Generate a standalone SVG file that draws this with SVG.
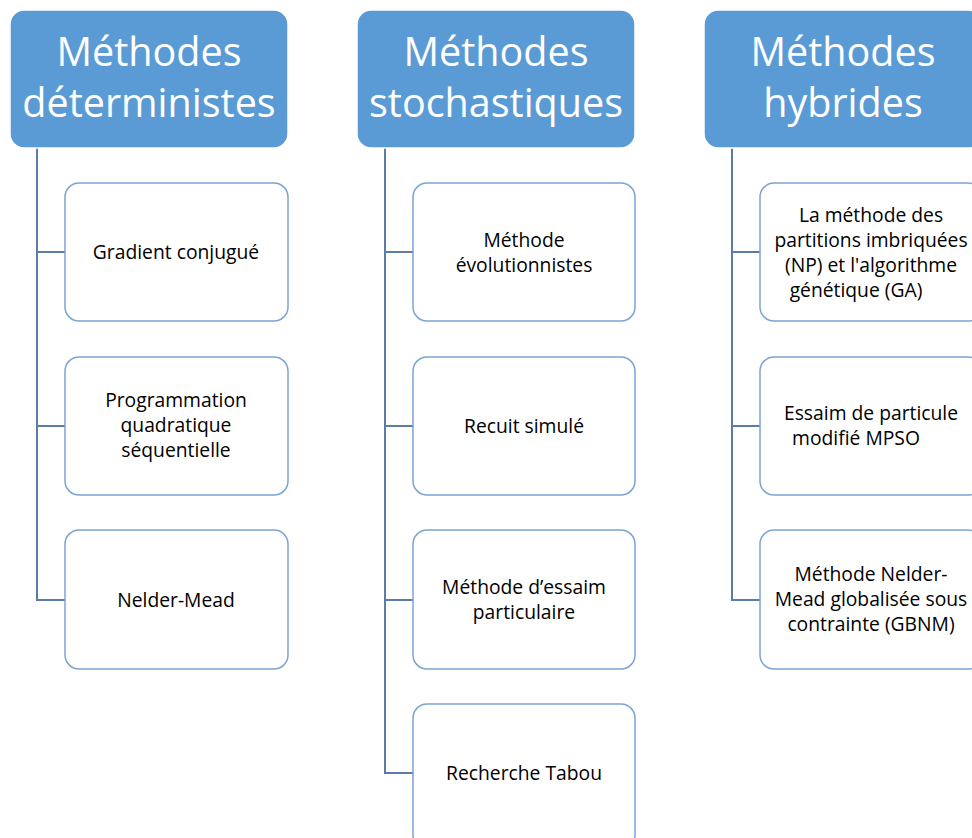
<svg xmlns="http://www.w3.org/2000/svg" width="972" height="838" viewBox="0 0 972 838">
<style>
.hdr rect{fill:#5B9BD5;stroke:#FFFFFF;stroke-width:1.5}
.hdr text{fill:#FFFFFF;font-family:"Open Sans","Noto Sans",sans-serif;font-size:39.5px;text-anchor:middle}
.ch rect{fill:#FFFFFF;stroke:#7BA4D3;stroke-width:1.5}
.ch text{fill:#000000;font-family:"Open Sans","Noto Sans",sans-serif;font-size:19.3px;text-anchor:middle}
.con path{fill:none;stroke:#5A7CA6;stroke-width:2}
</style>
<rect width="972" height="838" fill="#FFFFFF"/>
<g class="con">
<path d="M37,148 V600 H65 M37,252 H65 M37,426 H65"/>
<path d="M385,148 V773 H413 M385,252 H413 M385,426 H413 M385,600 H413"/>
<path d="M732,148 V600 H760 M732,252 H760 M732,426 H760"/>
</g>
<g id="h1" class="hdr"><rect x="10" y="10" width="278" height="138" rx="14"/><text x="149" y="66">Méthodes</text><text x="149" y="117">déterministes</text></g>
<g id="h2" class="hdr"><rect x="357" y="10" width="278" height="138" rx="14"/><text x="496" y="66">Méthodes</text><text x="496" y="117">stochastiques</text></g>
<g id="h3" class="hdr"><rect x="704" y="10" width="278" height="138" rx="14"/><text x="843" y="66">Méthodes</text><text x="843" y="117">hybrides</text></g>
<g id="c11" class="ch"><rect x="65" y="183" width="223" height="138" rx="14"/><text x="176" y="259">Gradient conjugué</text></g>
<g id="c12" class="ch"><rect x="65" y="357" width="223" height="138" rx="14"/><text x="176" y="407">Programmation</text><text x="176" y="432">quadratique</text><text x="176" y="457">séquentielle</text></g>
<g id="c13" class="ch"><rect x="65" y="530" width="223" height="139" rx="14"/><text x="176" y="607">Nelder-Mead</text></g>
<g id="c21" class="ch"><rect x="413" y="183" width="222" height="138" rx="14"/><text x="524" y="247">Méthode</text><text x="524" y="272">évolutionnistes</text></g>
<g id="c22" class="ch"><rect x="413" y="357" width="222" height="138" rx="14"/><text x="524" y="433">Recuit simulé</text></g>
<g id="c23" class="ch"><rect x="413" y="530" width="222" height="139" rx="14"/><text x="524" y="594">Méthode d’essaim</text><text x="524" y="619">particulaire</text></g>
<g id="c24" class="ch"><rect x="413" y="704" width="222" height="145" rx="14"/><text x="524" y="780">Recherche Tabou</text></g>
<g id="c31" class="ch"><rect x="760" y="183" width="222" height="138" rx="14"/><text x="871" y="222">La méthode des</text><text x="871" y="247">partitions imbriquées</text><text x="871" y="272">(NP) et l'algorithme</text><text x="856" y="297">génétique (GA)</text></g>
<g id="c32" class="ch"><rect x="760" y="357" width="222" height="138" rx="14"/><text x="871" y="420">Essaim de particule</text><text x="856" y="445">modifié MPSO</text></g>
<g id="c33" class="ch"><rect x="760" y="530" width="222" height="139" rx="14"/><text x="871" y="581">Méthode Nelder-</text><text x="871" y="606">Mead globalisée sous</text><text x="871" y="631">contrainte (GBNM)</text></g>
</svg>
